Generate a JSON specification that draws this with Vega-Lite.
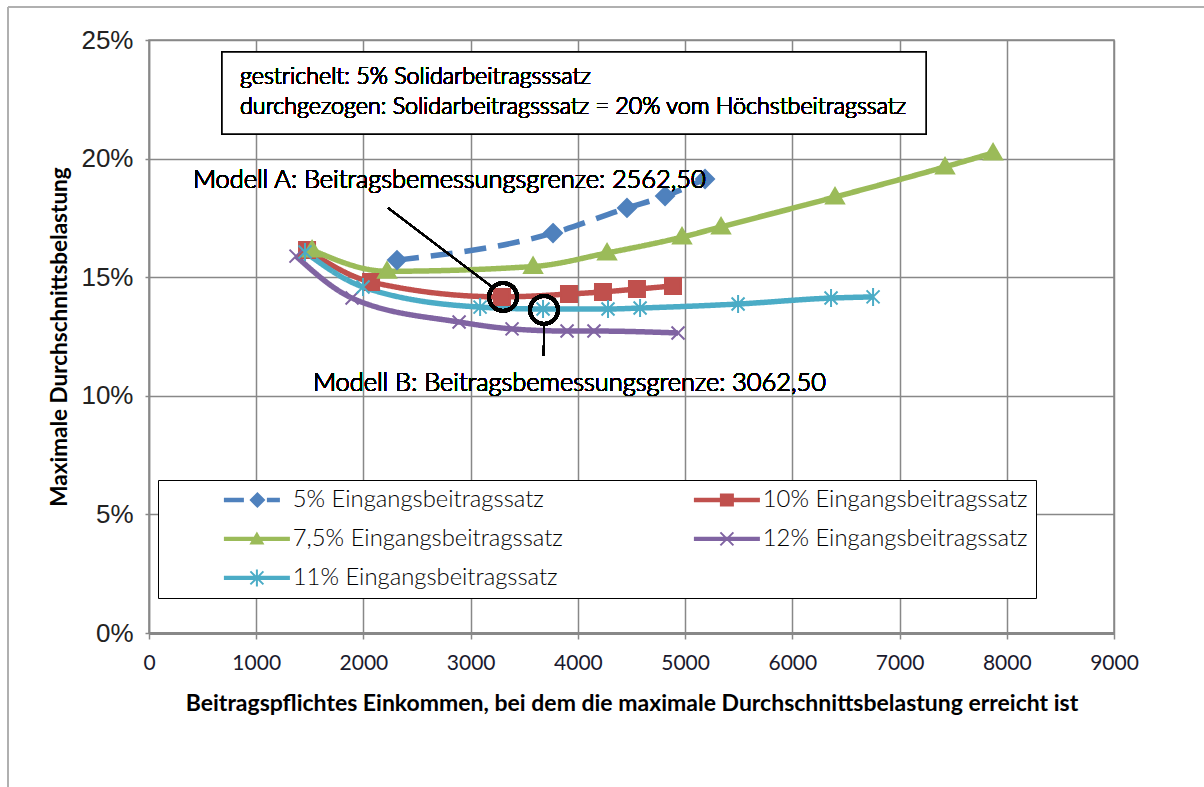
{
  "$schema": "https://vega.github.io/schema/vega-lite/v6.json",
  "width": 965,
  "height": 593,
  "autosize": "none",
  "padding": {"left": 149, "top": 40, "right": 90, "bottom": 154},
  "background": "white",
  "config": {"view": {"stroke": "#888888", "strokeWidth": 1.5}, "font": "Lato"},
  "resolve": {"scale": {"shape": "independent", "fill": "independent"}, "legend": {"shape": "independent", "fill": "independent"}},
  "data": {
    "values": [
      {"s": "5% Eingangsbeitragssatz", "x": 2313, "y": 15.72},
      {"s": "5% Eingangsbeitragssatz", "x": 3768, "y": 16.86},
      {"s": "5% Eingangsbeitragssatz", "x": 4458, "y": 17.92},
      {"s": "5% Eingangsbeitragssatz", "x": 4813, "y": 18.42},
      {"s": "5% Eingangsbeitragssatz", "x": 5186, "y": 19.14},
      {"s": "10% Eingangsbeitragssatz", "x": 1474, "y": 16.15},
      {"s": "10% Eingangsbeitragssatz", "x": 2071, "y": 14.8},
      {"s": "10% Eingangsbeitragssatz", "x": 3292, "y": 14.17},
      {"s": "10% Eingangsbeitragssatz", "x": 3917, "y": 14.29},
      {"s": "10% Eingangsbeitragssatz", "x": 4234, "y": 14.38},
      {"s": "10% Eingangsbeitragssatz", "x": 4551, "y": 14.5},
      {"s": "10% Eingangsbeitragssatz", "x": 4887, "y": 14.63},
      {"s": "7,5% Eingangsbeitragssatz", "x": 1521, "y": 16.15},
      {"s": "7,5% Eingangsbeitragssatz", "x": 2220, "y": 15.25},
      {"s": "7,5% Eingangsbeitragssatz", "x": 3582, "y": 15.45},
      {"s": "7,5% Eingangsbeitragssatz", "x": 4272, "y": 16.02},
      {"s": "7,5% Eingangsbeitragssatz", "x": 4971, "y": 16.69},
      {"s": "7,5% Eingangsbeitragssatz", "x": 5335, "y": 17.12},
      {"s": "7,5% Eingangsbeitragssatz", "x": 6398, "y": 18.38},
      {"s": "7,5% Eingangsbeitragssatz", "x": 7424, "y": 19.65},
      {"s": "7,5% Eingangsbeitragssatz", "x": 7872, "y": 20.24},
      {"s": "12% Eingangsbeitragssatz", "x": 1371, "y": 15.89},
      {"s": "12% Eingangsbeitragssatz", "x": 1894, "y": 14.12},
      {"s": "12% Eingangsbeitragssatz", "x": 2892, "y": 13.11},
      {"s": "12% Eingangsbeitragssatz", "x": 3386, "y": 12.82},
      {"s": "12% Eingangsbeitragssatz", "x": 3899, "y": 12.73},
      {"s": "12% Eingangsbeitragssatz", "x": 4150, "y": 12.73},
      {"s": "12% Eingangsbeitragssatz", "x": 4934, "y": 12.65},
      {"s": "11% Eingangsbeitragssatz", "x": 1455, "y": 16.06},
      {"s": "11% Eingangsbeitragssatz", "x": 1996, "y": 14.59},
      {"s": "11% Eingangsbeitragssatz", "x": 3088, "y": 13.74},
      {"s": "11% Eingangsbeitragssatz", "x": 3675, "y": 13.66},
      {"s": "11% Eingangsbeitragssatz", "x": 4281, "y": 13.66},
      {"s": "11% Eingangsbeitragssatz", "x": 4580, "y": 13.7},
      {"s": "11% Eingangsbeitragssatz", "x": 5494, "y": 13.87},
      {"s": "11% Eingangsbeitragssatz", "x": 6361, "y": 14.12},
      {"s": "11% Eingangsbeitragssatz", "x": 6753, "y": 14.17}
    ]
  },
  "layer": [
    {
      "mark": {"type": "rule", "color": "#b0b0b0", "strokeWidth": 2, "clip": false},
      "encoding": {"x": {"datum": -1315, "type": "quantitative"}, "y": {"datum": 26.39, "type": "quantitative"}, "y2": {"datum": -6.6}}
    },
    {
      "mark": {"type": "rule", "color": "#b0b0b0", "strokeWidth": 2, "clip": false},
      "encoding": {"x": {"datum": -1315, "type": "quantitative"}, "x2": {"datum": 9850}, "y": {"datum": 26.39, "type": "quantitative"}}
    },
    {
      "mark": {"type": "line", "interpolate": "monotone", "strokeWidth": 5.5},
      "encoding": {
        "x": {
          "field": "x", "type": "quantitative",
          "scale": {"domain": [0, 9000], "nice": false, "zero": false},
          "axis": {
            "values": [0, 1000, 2000, 3000, 4000, 5000, 6000, 7000, 8000, 9000],
            "format": "d",
            "title": "Beitragspflichtes Einkommen, bei dem die maximale Durchschnittsbelastung erreicht ist",
            "titleFont": "Lato", "titleFontWeight": "bold", "titleFontSize": 23, "titleColor": "#000000", "titlePadding": 19,
            "labelFont": "Lato", "labelFontSize": 21, "labelColor": "#1a1a2e", "labelPadding": 13, "labelFlush": false,
            "grid": true, "gridColor": "#888888", "gridWidth": 1.5,
            "domainColor": "#888888", "domainWidth": 3,
            "tickColor": "#888888", "tickSize": 6, "tickWidth": 1.5
          }
        },
        "y": {
          "field": "y", "type": "quantitative",
          "scale": {"domain": [0, 25], "nice": false},
          "axis": {
            "values": [0, 5, 10, 15, 20, 25],
            "labelExpr": "datum.value + '%'",
            "title": "Maximale Durchschnittsbelastung",
            "titleFont": "Lato", "titleFontWeight": "bold", "titleFontSize": 22.5, "titleColor": "#000000", "titlePadding": 9,
            "labelFont": "Liberation Sans", "labelFontSize": 26, "labelColor": "#222222", "labelPadding": 12,
            "grid": true, "gridColor": "#888888", "gridWidth": 1.5,
            "domainColor": "#888888", "domainWidth": 1.5,
            "tickColor": "#888888", "tickSize": 4, "tickWidth": 1.5
          }
        },
        "color": {
          "field": "s", "type": "nominal",
          "scale": {
            "domain": ["10% Eingangsbeitragssatz", "11% Eingangsbeitragssatz", "12% Eingangsbeitragssatz", "5% Eingangsbeitragssatz", "7,5% Eingangsbeitragssatz"],
            "range": ["#C0504D", "#4BACC6", "#8064A2", "#4F81BD", "#9BBB59"]
          },
          "legend": null
        },
        "strokeDash": {
          "field": "s", "type": "nominal",
          "scale": {
            "domain": ["10% Eingangsbeitragssatz", "11% Eingangsbeitragssatz", "12% Eingangsbeitragssatz", "5% Eingangsbeitragssatz", "7,5% Eingangsbeitragssatz"],
            "range": [[1, 0], [1, 0], [1, 0], [22, 12], [1, 0]]
          },
          "legend": null
        }
      }
    },
    {
      "mark": {"type": "point", "filled": true, "size": 100, "strokeWidth": 2, "opacity": 1},
      "encoding": {
        "x": {"field": "x", "type": "quantitative"},
        "y": {"field": "y", "type": "quantitative"},
        "color": {"field": "s", "type": "nominal", "legend": null},
        "shape": {
          "field": "s", "type": "nominal",
          "scale": {
            "domain": ["10% Eingangsbeitragssatz", "11% Eingangsbeitragssatz", "12% Eingangsbeitragssatz", "5% Eingangsbeitragssatz", "7,5% Eingangsbeitragssatz"],
            "range": ["M-1.6,-1.6H1.6V1.6H-1.6Z", "M-1.3,-1.3L1.3,1.3M-1.3,1.3L1.3,-1.3M0,-1.8V1.8", "M-1.3,-1.3L1.3,1.3M-1.3,1.3L1.3,-1.3", "M0,-1.8L1.8,0L0,1.8L-1.8,0Z", "M0,-1.8L1.8,1.3H-1.8Z"]
          },
          "legend": null
        },
        "stroke": {
          "field": "s", "type": "nominal",
          "scale": {
            "domain": ["10% Eingangsbeitragssatz", "11% Eingangsbeitragssatz", "12% Eingangsbeitragssatz", "5% Eingangsbeitragssatz", "7,5% Eingangsbeitragssatz"],
            "range": ["#C0504D", "#4BACC6", "#8064A2", "#4F81BD", "#9BBB59"]
          },
          "legend": null
        }
      }
    },
    {
      "transform": [{"filter": "false"}],
      "mark": {"type": "point", "filled": true, "opacity": 1},
      "encoding": {
        "x": {"field": "x", "type": "quantitative"},
        "y": {"field": "y", "type": "quantitative"},
        "shape": {
          "field": "s", "type": "nominal",
          "scale": {
            "domain": ["5% Eingangsbeitragssatz", "10% Eingangsbeitragssatz", "7,5% Eingangsbeitragssatz", "12% Eingangsbeitragssatz", "11% Eingangsbeitragssatz"],
            "range": [
              "M-6.2,-0.22H-4.2V0.22H-6.2ZM-1.9,-0.22H-0.6V0.22H-1.9ZM-2.85,-0.8L-2.05,0L-2.85,0.8L-3.65,0Z",
              "M-6.2,-0.22H0.4V0.22H-6.2ZM-3.6,-0.65H-2.2V0.65H-3.6Z",
              "M-6.2,-0.22H0.4V0.22H-6.2ZM-2.9,-0.75L-2.15,0.55H-3.65Z",
              "M-6.2,-0.22H0.4V0.22H-6.2ZM-3.48,-0.72L-2.18,0.58L-2.32,0.72L-3.62,-0.58ZM-3.62,0.58L-2.32,-0.72L-2.18,-0.58L-3.48,0.72Z",
              "M-6.2,-0.22H0.4V0.22H-6.2ZM-3.48,-0.72L-2.18,0.58L-2.32,0.72L-3.62,-0.58ZM-3.62,0.58L-2.32,-0.72L-2.18,-0.58L-3.48,0.72ZM-3,-0.85H-2.8V0.85H-3Z"
            ]
          },
          "legend": {
            "title": null,
            "orient": "none",
            "legendX": 9,
            "legendY": 440,
            "columns": 2,
            "direction": "horizontal",
            "strokeColor": "#000000",
            "fillColor": "#ffffff",
            "padding": 8,
            "symbolSize": 400,
            "symbolOffset": 108,
            "symbolOpacity": 1,
            "labelOffset": -5,
            "labelFont": "Lato",
            "labelFontWeight": 300,
            "labelFontSize": 23.8,
            "labelLimit": 400,
            "labelColor": "#000000",
            "rowPadding": 14,
            "columnPadding": 73
          }
        },
        "fill": {
          "field": "s", "type": "nominal",
          "scale": {
            "domain": ["5% Eingangsbeitragssatz", "10% Eingangsbeitragssatz", "7,5% Eingangsbeitragssatz", "12% Eingangsbeitragssatz", "11% Eingangsbeitragssatz"],
            "range": ["#4F81BD", "#C0504D", "#9BBB59", "#8064A2", "#4BACC6"]
          },
          "legend": {
            "title": null,
            "orient": "none",
            "legendX": 9,
            "legendY": 440,
            "columns": 2,
            "direction": "horizontal",
            "strokeColor": "#000000",
            "fillColor": "#ffffff",
            "padding": 8,
            "symbolSize": 400,
            "symbolOffset": 108,
            "symbolOpacity": 1,
            "labelOffset": -5,
            "labelFont": "Lato",
            "labelFontWeight": 300,
            "labelFontSize": 23.8,
            "labelLimit": 400,
            "labelColor": "#000000",
            "rowPadding": 14,
            "columnPadding": 73
          }
        }
      }
    },
    {
      "mark": {"type": "rect", "fill": "#ffffff", "stroke": "#000000", "strokeWidth": 1.5},
      "encoding": {"x": {"datum": 681, "type": "quantitative"}, "x2": {"datum": 7247}, "y": {"datum": 24.49, "type": "quantitative"}, "y2": {"datum": 21.04}}
    },
    {
      "mark": {"type": "text", "align": "left", "baseline": "middle", "font": "Lato", "fontWeight": 300, "fontSize": 23.3, "lineHeight": 30, "fill": "#000000", "strokeWidth": 0,
        "text": ["gestrichelt: 5% Solidarbeitragsssatz", "durchgezogen: Solidarbeitragsssatz = 20% vom Höchstbeitragssatz"]},
      "encoding": {"x": {"datum": 849, "type": "quantitative"}, "y": {"datum": 23.44, "type": "quantitative"}}
    },
    {
      "mark": {"type": "text", "align": "left", "baseline": "middle", "font": "Lato", "fontWeight": 300, "fontSize": 25.4, "fill": "#000000", "strokeWidth": 0, "text": "Modell A: Beitragsbemessungsgrenze: 2562,50"},
      "encoding": {"x": {"datum": 410, "type": "quantitative"}, "y": {"datum": 19.1, "type": "quantitative"}}
    },
    {
      "mark": {"type": "text", "align": "left", "baseline": "middle", "font": "Lato", "fontWeight": 300, "fontSize": 25.4, "fill": "#000000", "strokeWidth": 0, "text": "Modell B: Beitragsbemessungsgrenze: 3062,50"},
      "encoding": {"x": {"datum": 1529, "type": "quantitative"}, "y": {"datum": 10.54, "type": "quantitative"}}
    },
    {
      "mark": {"type": "rule", "color": "#000000", "strokeWidth": 1.5},
      "encoding": {"x": {"datum": 2229, "type": "quantitative"}, "y": {"datum": 17.92, "type": "quantitative"}, "x2": {"datum": 3199}, "y2": {"datum": 14.59}}
    },
    {
      "mark": {"type": "rule", "color": "#000000", "strokeWidth": 1.5},
      "encoding": {"x": {"datum": 3684, "type": "quantitative"}, "y": {"datum": 12.94, "type": "quantitative"}, "x2": {"datum": 3680}, "y2": {"datum": 11.68}}
    },
    {
      "mark": {"type": "point", "shape": "circle", "size": 784, "filled": false, "color": "#000000", "strokeWidth": 3.5, "opacity": 1},
      "encoding": {"x": {"datum": 3302, "type": "quantitative"}, "y": {"datum": 14.17, "type": "quantitative"}}
    },
    {
      "mark": {"type": "point", "shape": "circle", "size": 784, "filled": false, "color": "#000000", "strokeWidth": 3.5, "opacity": 1},
      "encoding": {"x": {"datum": 3684, "type": "quantitative"}, "y": {"datum": 13.62, "type": "quantitative"}}
    }
  ]
}
